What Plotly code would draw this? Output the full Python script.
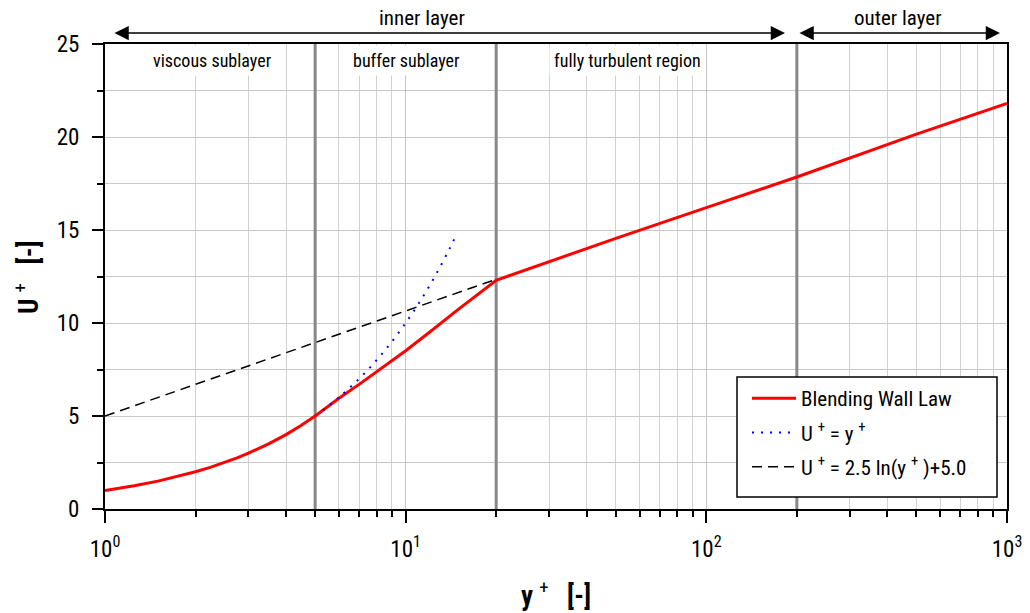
import plotly.graph_objects as go

# ---- data ----
blend_yplus = [1, 1.25, 1.5, 1.75, 2, 2.25, 2.5, 2.75, 3, 3.5, 4, 4.5, 5, 6, 7, 8, 9, 10, 12, 15, 20, 50, 100, 200, 500, 1000]
blend_uplus = [1.0, 1.25, 1.5, 1.75, 2.0, 2.25, 2.5, 2.75, 3.0, 3.5, 4.0, 4.5, 5.0, 5.95, 6.7, 7.37, 7.97, 8.51, 9.5, 10.75, 12.3, 14.55, 16.2, 17.85, 20.15, 21.8]

visc_yplus = [5.3, 6, 7, 8, 9, 10, 11, 12, 13, 14, 14.8]
visc_uplus = [5.3, 6, 7, 8, 9, 10, 11, 12, 13, 14, 14.8]

log_yplus = [1, 20]
log_uplus = [5.0, 12.35]

boundaries = [5, 20, 200]

x_major = [1, 10, 100, 1000]
x_major_text = ["10<sup>0</sup>", "10<sup>1</sup>", "10<sup>2</sup>", "10<sup>3</sup>"]
x_minor = [m * d for d in (1, 10, 100) for m in range(2, 10)]

FONT = "Liberation Sans Narrow, Roboto Condensed, DejaVu Sans Condensed, Arial Narrow, sans-serif"

# plot-area pixel geometry (used only for placing annotations)
L, R, T, B = 105, 1007, 44, 509
def px_x(p):
    return (p - L) / (R - L)
def px_y(p):
    return (B - p) / (B - T)

fig = go.Figure()

for b in boundaries:
    fig.add_trace(go.Scatter(x=[b, b], y=[0, 25], mode="lines",
                             line=dict(color="#888888", width=3),
                             showlegend=False, hoverinfo="skip"))

fig.add_trace(go.Scatter(x=blend_yplus, y=blend_uplus, mode="lines",
                         line=dict(color="#ff0000", width=3),
                         name="Blending Wall Law", legendgroup="a"))
fig.add_trace(go.Scatter(x=visc_yplus, y=visc_uplus, mode="lines",
                         line=dict(color="#0000ff", width=2, dash="2px,7px", shape="spline"),
                         name="U <sup>+</sup> = y <sup>+</sup>", legendgroup="b"))
fig.add_trace(go.Scatter(x=log_yplus, y=log_uplus, mode="lines",
                         line=dict(color="#000000", width=1.5, dash="10px,6px"),
                         name="U <sup>+</sup> = 2.5 ln(y <sup>+</sup> )+5.0", legendgroup="c"))

annotations = []
# top labels
for txt, px in [("inner layer", 422), ("outer layer", 898)]:
    annotations.append(dict(text=txt, xref="paper", yref="paper",
                            x=px_x(px), y=px_y(18),
                            xanchor="center", yanchor="middle",
                            showarrow=False, font=dict(size=21, color="black")))
# double arrows
for x0, x1 in [(113, 785), (798, 1000)]:
    annotations.append(dict(text="", xref="paper", yref="paper",
                            x=px_x(x1), y=px_y(33),
                            axref="pixel", ayref="pixel", ax=-(x1 - x0), ay=0,
                            showarrow=True, arrowhead=2, arrowsize=1.9,
                            arrowwidth=1.5, arrowside="end+start", arrowcolor="black"))
# region labels
for txt, px in [("viscous sublayer", 212), ("buffer sublayer", 406), ("fully turbulent region", 627)]:
    annotations.append(dict(text=txt, xref="paper", yref="paper",
                            x=px_x(px), y=px_y(61),
                            xanchor="center", yanchor="middle",
                            showarrow=False, bgcolor="white", borderpad=4,
                            font=dict(size=18, color="black")))
# y-axis title
annotations.append(dict(text="<b>U</b> <sup>+</sup>   <b>[-]</b>", xref="paper", yref="paper",
                        x=px_x(27), y=px_y(277), xanchor="center", yanchor="middle",
                        textangle=-90, showarrow=False, font=dict(size=27, color="black")))

shapes = [dict(type="rect", xref="paper", yref="paper", layer="above",
               x0=px_x(737), x1=px_x(997), y0=px_y(497), y1=px_y(377),
               fillcolor="white", line=dict(color="black", width=1.5))]

fig.update_layout(
    width=1030, height=613,
    margin=dict(l=L, r=1030 - R, t=T, b=613 - B),
    paper_bgcolor="white", plot_bgcolor="white",
    font=dict(family=FONT, color="black"),
    annotations=annotations,
    shapes=shapes,
    legend=dict(x=px_x(747), y=px_y(378), xanchor="left", yanchor="top",
                bgcolor="rgba(0,0,0,0)", borderwidth=0,
                font=dict(size=21), itemwidth=44, tracegroupgap=4),
    showlegend=True,
)

fig.update_xaxes(
    type="log", range=[0, 3], automargin=False,
    tickmode="array", tickvals=x_major, ticktext=x_major_text,
    ticks="outside", ticklen=12, tickwidth=1.5, tickcolor="black",
    showline=True, linecolor="black", linewidth=2, mirror=True,
    showgrid=True, gridcolor="#c4c4c4", gridwidth=1,
    tickfont=dict(size=23), ticklabelstandoff=6,
    minor=dict(tickmode="array", tickvals=x_minor, ticks="outside", ticklen=6,
               tickwidth=1.5, tickcolor="black", showgrid=True,
               gridcolor="#d2d2d2", gridwidth=1),
    title=dict(text="<b>y</b> <sup>+</sup>   <b>[-]</b>", font=dict(size=27), standoff=25),
    zeroline=False,
)
fig.update_yaxes(
    range=[0, 25], automargin=False,
    tickmode="linear", tick0=0, dtick=5,
    ticks="outside", ticklen=11, tickwidth=1.5, tickcolor="black",
    showline=True, linecolor="black", linewidth=2, mirror=True,
    showgrid=True, gridcolor="#c8c8c8", gridwidth=1,
    tickfont=dict(size=23), ticklabelstandoff=8,
    minor=dict(dtick=2.5, ticks="outside", ticklen=6, tickwidth=1.5,
               tickcolor="black", showgrid=True, gridcolor="#c8c8c8", gridwidth=1),
    zeroline=False,
)

fig.write_html("out.html")
